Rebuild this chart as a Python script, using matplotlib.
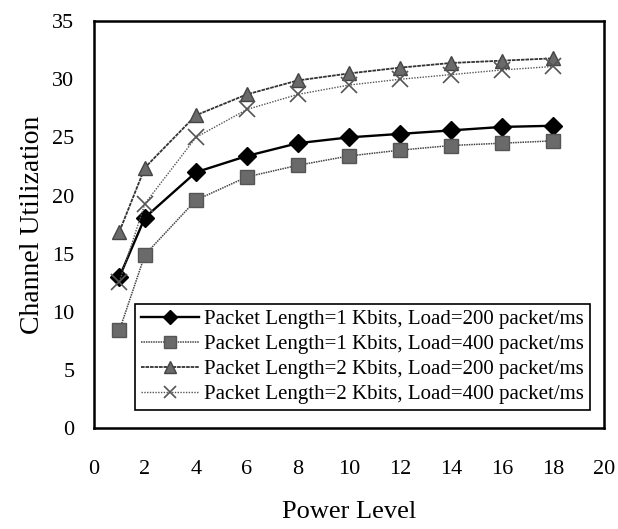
import matplotlib
matplotlib.use("Agg")
import matplotlib.pyplot as plt

plt.rcParams['font.family'] = ['Liberation Serif', 'DejaVu Serif']

# Power levels on the x axis
power = [1, 2, 4, 6, 8, 10, 12, 14, 16, 18]

# Channel utilization for each configuration
util_1k_200 = [13.0, 18.1, 22.0, 23.4, 24.5, 25.0, 25.3, 25.6, 25.9, 26.0]
util_1k_400 = [8.4, 14.9, 19.6, 21.6, 22.6, 23.4, 23.9, 24.3, 24.5, 24.7]
util_2k_200 = [16.9, 22.4, 26.9, 28.7, 29.9, 30.5, 31.0, 31.4, 31.6, 31.8]
util_2k_400 = [12.6, 19.3, 25.0, 27.4, 28.7, 29.5, 30.0, 30.4, 30.8, 31.1]

labels = ['Packet Length=1 Kbits, Load=200 packet/ms',
          'Packet Length=1 Kbits, Load=400 packet/ms',
          'Packet Length=2 Kbits, Load=200 packet/ms',
          'Packet Length=2 Kbits, Load=400 packet/ms']

fig = plt.figure(figsize=(6.18, 5.29), dpi=100)
ax = fig.add_axes([0.152, 0.191, 0.825, 0.769])

ax.plot(power, util_1k_200, color='black', lw=1.7, marker='D', ms=9,
        mfc='black', mec='black', label=labels[0])
ax.plot(power, util_1k_400, color='#444444', lw=1.1, ls=(0, (1, 0.6)), marker='s', ms=10,
        mfc='#6a6a6a', mec='#555555', label=labels[1])
ax.plot(power, util_2k_200, color='#333333', lw=1.3, ls=(0, (2, 0.5)), marker='^', ms=10,
        mfc='#6a6a6a', mec='#444444', label=labels[2])
ax.plot(power, util_2k_400, color='#555555', lw=1.0, ls=(0, (1, 1)), marker='x', ms=11,
        mew=1.2, mec='#555555', label=labels[3])

ax.set_xlim(0, 20)
ax.set_ylim(0, 35)
ax.set_xticks(range(0, 21, 2))
ax.set_yticks(range(0, 36, 5))
ax.tick_params(direction='in', length=5, width=1, labelsize=16)
ax.tick_params(axis='x', pad=23)
ax.tick_params(axis='y', pad=14)
for t in ax.xaxis.get_major_ticks():
    if t.get_loc() in (0, 20):
        t.tick1line.set_visible(False)
for t in ax.yaxis.get_major_ticks():
    if t.get_loc() in (0, 35):
        t.tick1line.set_visible(False)
for s in ax.spines.values():
    s.set_linewidth(1.8)

ax.set_xlabel('Power Level', fontsize=19, labelpad=16)
ax.set_ylabel('Channel Utilization', fontsize=20, labelpad=5)

leg = ax.legend(loc='lower right', bbox_to_anchor=(0.9725, 0.044), borderaxespad=0,
                fontsize=15, frameon=True, fancybox=False, edgecolor='black',
                framealpha=1, handlelength=2.8, handletextpad=0.2, borderpad=0.3,
                labelspacing=0.25, markerscale=0.8)
leg.get_frame().set_linewidth(1.2)

fig.savefig('out.png', dpi=100)
